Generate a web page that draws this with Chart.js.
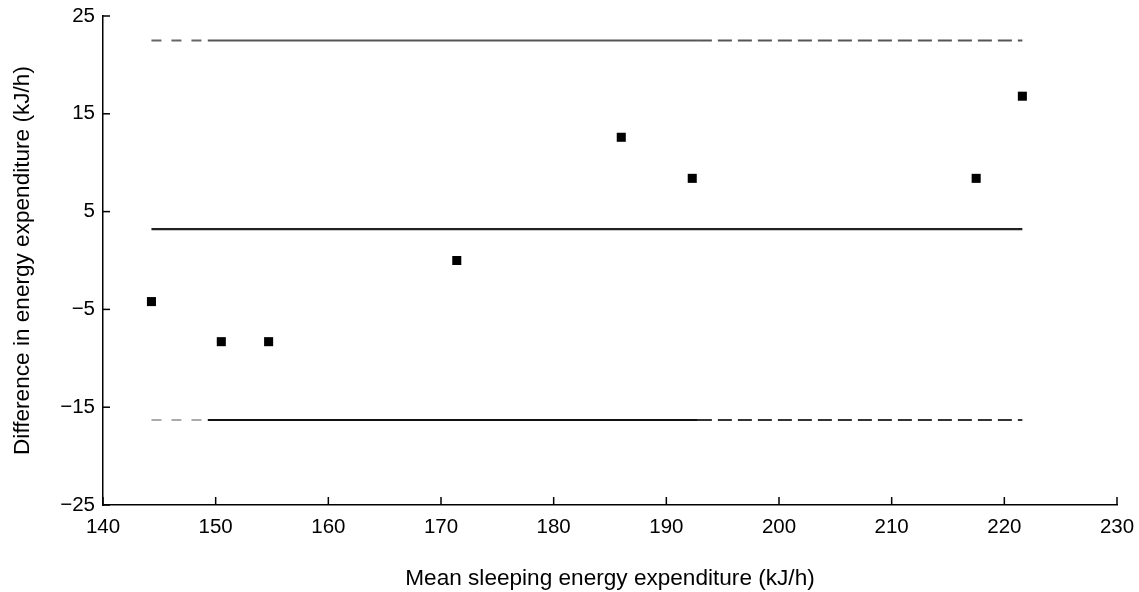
<!DOCTYPE html>
<html><head><meta charset="utf-8">
<script src="https://cdn.jsdelivr.net/npm/chart.js@4"></script>
<style>html,body{margin:0;padding:0;background:#fff}#wrap{width:1139px;height:592px}</style>
</head><body><div id="wrap"><canvas id="c" width="1139" height="592"></canvas></div>
<script>
// Mean sleeping energy expenditure (x) and difference in energy expenditure (y), kJ/h
const meanEnergy = [144.3, 150.5, 154.7, 171.4, 186.0, 192.3, 217.5, 221.6];
const diffEnergy = [-4.2, -8.3, -8.3, 0.0, 12.6, 8.4, 8.4, 16.8];
// Bland-Altman reference lines
const meanDifference = 3.2;
const upperLimit = 22.5;
const lowerLimit = -16.3;
const limitX = [144.3, 149.3, 192.8, 221.6];
// Axis ticks
const xTicks = [140, 150, 160, 170, 180, 190, 200, 210, 220, 230];
const yTicks = [-25, -15, -5, 5, 15, 25];

const FONT = '"Liberation Sans", Arial, Helvetica, sans-serif';

function limitLine(value, colors, dashes) {
  return {
    type: 'scatter', showLine: true, pointRadius: 0, borderWidth: 2,
    data: limitX.map(x => ({x: x, y: value})),
    borderColor: colors[1],
    segment: {
      borderColor: c => colors[c.p0DataIndex],
      borderDash: c => dashes[c.p0DataIndex]
    }
  };
}

const innerTicks = {
  id: 'innerTicks',
  afterDatasetsDraw(chart) {
    const {ctx, scales: {x, y}, chartArea} = chart;
    ctx.save();
    ctx.strokeStyle = '#000';
    ctx.lineWidth = 1.5;
    x.ticks.forEach(t => {
      const px = x.getPixelForValue(t.value);
      ctx.beginPath(); ctx.moveTo(px, chartArea.bottom); ctx.lineTo(px, chartArea.bottom - 8); ctx.stroke();
    });
    y.ticks.forEach(t => {
      const py = y.getPixelForValue(t.value);
      ctx.beginPath(); ctx.moveTo(chartArea.left, py); ctx.lineTo(chartArea.left + 7, py); ctx.stroke();
    });
    ctx.restore();
  }
};

new Chart(document.getElementById('c'), {
  type: 'scatter',
  data: {
    datasets: [
      limitLine(upperLimit, ['#666', '#555', '#555'], [[10, 10], [], [14, 6]]),
      limitLine(lowerLimit, ['#aaa', '#111', '#333'], [[10, 10], [], [14, 6]]),
      {
        type: 'scatter', showLine: true, pointRadius: 0, borderWidth: 2.2, borderColor: '#222',
        data: [limitX[0], limitX[limitX.length - 1]].map(x => ({x: x, y: meanDifference}))
      },
      {
        type: 'scatter', pointStyle: 'rect', pointRadius: 6.4, pointHoverRadius: 6.4,
        backgroundColor: '#000', borderWidth: 0,
        data: meanEnergy.map((x, i) => ({x: x, y: diffEnergy[i]}))
      }
    ]
  },
  options: {
    responsive: false, animation: false, devicePixelRatio: 1,
    layout: {padding: {top: 16, right: 22, left: 0, bottom: 0}},
    plugins: {legend: {display: false}, tooltip: {enabled: false}},
    scales: {
      x: {
        type: 'linear', min: 140, max: 230,
        afterBuildTicks: s => { s.ticks = xTicks.map(v => ({value: v})); },
        afterFit: s => { s.height = 87; s.paddingLeft = 0; s.paddingRight = 0; },
        grid: {display: false, drawTicks: false},
        border: {display: true, color: '#000', width: 1.5},
        ticks: {color: '#000', padding: 10, font: {family: FONT, size: 20.5}, callback: v => String(v)},
        title: {display: true, text: 'Mean sleeping energy expenditure (kJ/h)', color: '#000',
                font: {family: FONT, size: 22.6}, padding: {top: 0, bottom: 0}}
      },
      y: {
        type: 'linear', min: -25, max: 25,
        afterBuildTicks: s => { s.ticks = yTicks.map(v => ({value: v})); },
        afterFit: s => { s.width = 103; s.paddingTop = 0; s.paddingBottom = 0; },
        grid: {display: false, drawTicks: false},
        border: {display: true, color: '#000', width: 1.5},
        ticks: {color: '#000', padding: 8, font: {family: FONT, size: 20.5},
                callback: v => (v < 0 ? '\u2212' + Math.abs(v) : String(v))},
        title: {display: true, text: 'Difference in energy expenditure (kJ/h)', color: '#000',
                font: {family: FONT, size: 22.6}, padding: {top: 9, bottom: 0}}
      }
    }
  },
  plugins: [innerTicks]
});
</script></body></html>
